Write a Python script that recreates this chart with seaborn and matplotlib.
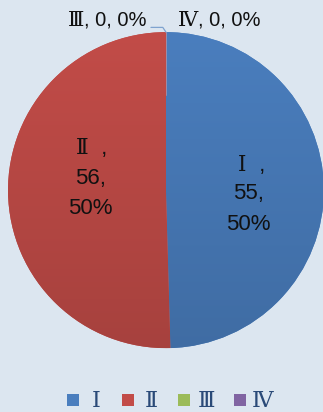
import matplotlib
matplotlib.use("Agg")
import matplotlib.pyplot as plt
import seaborn as sns
import numpy as np
from matplotlib.patches import Rectangle
from matplotlib.colors import to_rgb, LinearSegmentedColormap

categories = ["Ⅰ", "Ⅱ", "Ⅲ", "Ⅳ"]
values = [55, 56, 0, 0]
percents = ["50%", "50%", "0%", "0%"]
colors = ["#4a7ebe", "#c24c48", "#9bbb59", "#8064a2"]
bg = "#dce6f0"

sns.set_style("white")
sans = ['Liberation Sans Narrow', 'Liberation Sans', 'DejaVu Sans']
serif = ['DejaVu Serif', 'Noto Sans CJK SC']
plt.rcParams['font.family'] = sans


def darker(c, f=0.86):
    r, g, b = to_rgb(c)
    return (r * f, g * f, b * f)


W, H = 323, 412
fig = plt.figure(figsize=(W / 100, H / 100), dpi=100, facecolor=bg)
ax = fig.add_axes([0.0248, 0.155, 0.978, 0.767])
ax.set_facecolor(bg)

wedges, _ = ax.pie(values, colors=colors, startangle=90, counterclock=False,
                   radius=1.0, wedgeprops=dict(linewidth=0))
grad = np.linspace(0, 1, 256).reshape(-1, 1)
for w, c in zip(wedges, colors):
    if w.theta2 - w.theta1 <= 0:
        continue
    cmap = LinearSegmentedColormap.from_list("g", [to_rgb(c), darker(c)])
    im = ax.imshow(grad, cmap=cmap, extent=(-1, 1, -1, 1), origin='upper',
                   aspect='auto', zorder=w.get_zorder() + 0.1)
    im.set_clip_path(w)
ax.plot([0, 0], [0.6, 1.0], color="#e6a0a0", lw=0.6, alpha=0.6, zorder=5)
ax.set_xlim(-1, 1)
ax.set_ylim(-1, 1)
ax.set_aspect('auto')
ax.axis('off')

txt = "#111111"
fs_in = 16
# inside labels (three lines each)
for (cx, ys), i in [((0.52, (0.158, -0.019, -0.22)), 0), ((-0.48, (0.266, 0.076, -0.114)), 1)]:
    ax.text(cx - 0.01, ys[0], categories[i], ha='right', va='center', fontsize=15.5,
            family=serif, color=txt, zorder=10)
    ax.text(cx + 0.03, ys[0], " ,", ha='left', va='center', fontsize=fs_in, color=txt, zorder=10)
    ax.text(cx, ys[1], f"{values[i]},", ha='center', va='center', fontsize=fs_in, color=txt, zorder=10)
    ax.text(cx, ys[2], percents[i], ha='center', va='center', fontsize=fs_in, color=txt, zorder=10)

# outside labels
fs_out = 14.5
for sx, i in [(-0.519, 2), (0.2025, 3)]:
    ax.text(sx, 1.076, categories[i], ha='right', va='center', fontsize=15,
            family=serif, color=txt, clip_on=False)
    ax.text(sx, 1.076, f", {values[i]}, {percents[i]}", ha='left', va='center',
            fontsize=fs_out, color=txt, clip_on=False)
ax.plot([-0.095, -0.02, 0.0], [1.03, 1.03, 1.0], color="#7fa3cf", lw=0.9, clip_on=False)

# legend (manual layout)
sq_x = [67, 122, 178, 234]
tx_x = [92, 145, 198, 252]
for i, c in enumerate(colors):
    fig.patches.append(Rectangle((sq_x[i] / W, 1 - 405.5 / H), 12 / W, 12 / H,
                                 transform=fig.transFigure, facecolor=c, edgecolor='none'))
    fig.text(tx_x[i] / W, 1 - 401 / H, categories[i], ha='left', va='center',
             fontsize=16, family=serif, color="#2a4a78")

fig.savefig("out.png", dpi=100, facecolor=bg)
